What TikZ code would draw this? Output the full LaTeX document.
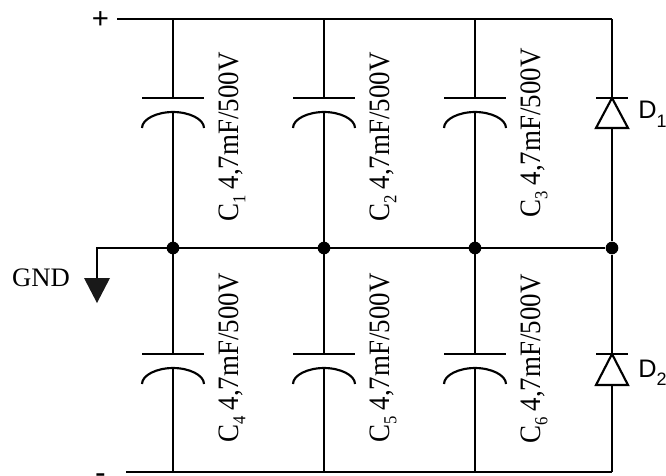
\documentclass[tikz,border=0pt]{standalone}
\usepackage{graphicx}
\usepackage{fontspec}
\setmainfont{Liberation Serif}
\newfontfamily\arialf{Liberation Sans}
\newcommand{\capsub}[1]{\scalebox{1}[1.1]{C\raisebox{-5pt}{\fontsize{12.5pt}{14pt}\selectfont #1}\hspace{4.5pt}4,7mF/500V}}
\newcommand{\capt}[2]{%
  \begin{scope}[shift={(#2)}]
  \draw[wire] (-31,0) -- (31,0);
  \draw[wire] (-31,30) .. controls (-31,21) and (-16,14) .. (0,14) .. controls (16,14) and (31,21) .. (31,30);
  \end{scope}
}
\tikzset{
  wire/.style={line width=1.6pt,black},
  dotn/.style={circle,fill=black,minimum size=9.5pt,inner sep=0pt},
  caplabel/.style={rotate=90,anchor=base west,inner sep=0pt,font=\fontsize{20.2pt}{24pt}\selectfont},
  sans/.style={inner sep=0pt,font=\arialf\fontsize{19pt}{20pt}\selectfont},
  diode/.style={line width=1.6pt,black,line join=miter}
}
\begin{document}
\begin{tikzpicture}[x=0.75pt,y=-0.75pt]
\useasboundingbox (0,0) rectangle (666,475);
\begin{scope}
\clip (0,0) rectangle (666,475);
% rails
\coordinate (tl) at (117,19); \coordinate (tr) at (612,19);
\coordinate (bl) at (126,472); \coordinate (br) at (612,472);
\coordinate (gl) at (97,248);
\node[dotn] (j1) at (173,248) {};
\node[dotn] (j2) at (324,248) {};
\node[dotn] (j3) at (475,248) {};
\node[dotn] (j4) at (612,248) {};
\draw[wire] (tl) -- (tr);
\draw[wire] (bl) -- (br);
\draw[wire] (gl) -- (j4);
% capacitors
\foreach \n/\x in {a/173,b/324,c/475}{
  \capt{\n u}{\x,98}
  \capt{\n l}{\x,354}
  \draw[wire] (\x,19) -- (\x,98);
  \draw[wire] (\x,112) -- (\x,248);
  \draw[wire] (\x,248) -- (\x,354);
  \draw[wire] (\x,368) -- (\x,472);
}
% labels
\node[caplabel] (c1) at (238,222) {\capsub{1}};
\node[caplabel] (c2) at (389,222) {\capsub{2}};
\node[caplabel] (c3) at (540,218) {\capsub{3}};
\node[caplabel] (c4) at (238,443) {\capsub{4}};
\node[caplabel] (c5) at (389,443) {\capsub{5}};
\node[caplabel] (c6) at (540,444) {\capsub{6}};
% diodes
\coordinate (d1a) at (612,98); \coordinate (d1b) at (612,128);
\coordinate (d2a) at (612,354); \coordinate (d2b) at (612,385);
\draw[wire] (tr) -- (d1a);
\draw[wire] (d1b) -- (j4);
\draw[wire] (j4) -- (d2a);
\draw[wire] (d2b) -- (br);
\draw[diode] (d1a) ++(-16,0) -- ++(32,0);
\draw[diode] (d1a) -- ++(-16,30) -- ++(32,0) -- cycle;
\draw[diode] (d2a) ++(-16,0) -- ++(32,0);
\draw[diode] (d2a) -- ++(-16,31) -- ++(32,0) -- cycle;
\node[sans,anchor=base west] (d1) at (638,118) {D\raisebox{-7pt}{\fontsize{13.5pt}{14pt}\selectfont 1}};
\node[sans,anchor=base west] (d2) at (638,377) {D\raisebox{-6.5pt}{\fontsize{13.5pt}{14pt}\selectfont 2}};
% ground
\coordinate (gt) at (97,279);
\draw[wire] (j1) -- (gl) -- (gt);
\fill[black!90] (84,278) -- (110,278) -- (97,303) -- cycle;
\node[inner sep=0pt,anchor=base,font=\fontsize{20pt}{22pt}\selectfont] (gnd) at (41,286) {GND};
\node[sans,anchor=base,font=\arialf\fontsize{22pt}{24pt}\selectfont] (plus) at (100.5,28) {+};
\node[sans,anchor=base,font=\arialf\fontsize{24pt}{24pt}\selectfont] (minus) at (100.5,483) {-};
\end{scope}
\end{tikzpicture}
\end{document}
